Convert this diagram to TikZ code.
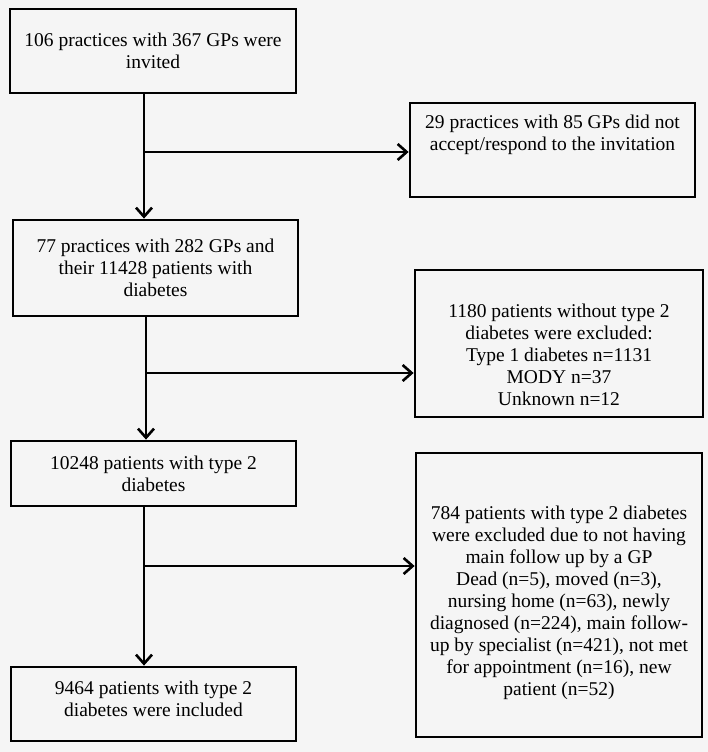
\documentclass[tikz,border=0pt]{standalone}
\usepackage{fontspec}
\setmainfont{Liberation Serif}
\usetikzlibrary{arrows.meta,positioning}
\newcommand{\flowtext}[4]{\parbox[c][#2][c]{#1}{\centering\vspace*{#3}#4\par}}

\begin{document}
\begin{tikzpicture}[x=1pt,y=-1pt,
  every node/.style={font=\fontsize{19.5}{22}\selectfont},
  flowbox/.style={draw,line width=2.8pt,inner sep=0pt},
  flowarrow/.style={line width=2.6pt,-{Straight Barb[length=9pt,width=16pt,line width=2.6pt]}}]
  \fill[black!4](0,0)rectangle(708,752);
  \useasboundingbox(0,0)rectangle(708,752);
  % left column
  \node[flowbox](invited)at(153,51){\flowtext{286pt}{84pt}{0pt}{106 practices with 367 GPs were\\invited}};
  \node[flowbox](practices)at(155.5,268){\flowtext{285pt}{96pt}{0pt}{77 practices with 282 GPs and\\their 11428 patients with\\diabetes}};
  \node[flowbox](typetwo)at(153.5,473.5){\flowtext{285pt}{65pt}{0pt}{10248 patients with type 2\\diabetes}};
  \node[flowbox](included)at(153.5,704){\flowtext{285pt}{74pt}{-10pt}{9464 patients with type 2\\diabetes were included}};
  % right column
  \node[flowbox](noreply)at(552.5,150){\flowtext{285pt}{94pt}{-30pt}{29 practices with 85 GPs did not\\accept/respond to the invitation}};
  \node[flowbox](nottype)at(559,343.5){\flowtext{288pt}{147pt}{22pt}{1180 patients without type 2\\diabetes were excluded:\\Type 1 diabetes n=1131\\MODY n=37\\Unknown n=12}};
  \node[flowbox](nofollow)at(559,595){\flowtext{286pt}{284pt}{16pt}{784 patients with type 2 diabetes\\were excluded due to not having\\main follow up by a GP\\Dead (n=5), moved (n=3),\\nursing home (n=63), newly\\diagnosed (n=224), main follow-\\up by specialist (n=421), not met\\for appointment (n=16), new\\patient (n=52)}};
  % connectors
  \coordinate(j1)at(144,152);
  \coordinate(j2)at(146,373);
  \coordinate(j3)at(144,566);
  \draw[flowarrow](invited.south -| j1)--(practices.north -| j1);
  \draw[flowarrow](j1)--(noreply.west |- j1);
  \draw[flowarrow](practices.south -| j2)--(typetwo.north -| j2);
  \draw[flowarrow](j2)--(nottype.west |- j2);
  \draw[flowarrow](typetwo.south -| j3)--(included.north -| j3);
  \draw[flowarrow](j3)--(nofollow.west |- j3);
\end{tikzpicture}
\end{document}
